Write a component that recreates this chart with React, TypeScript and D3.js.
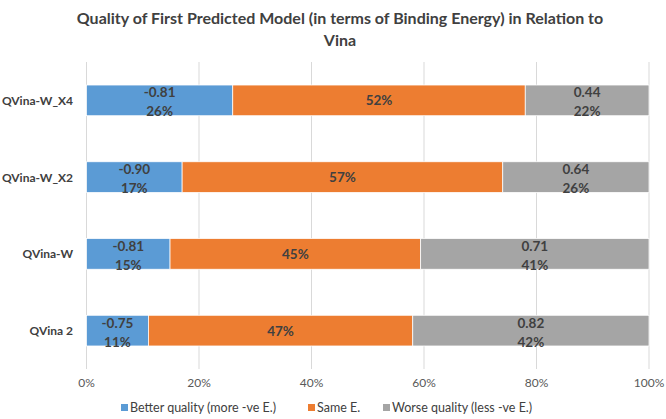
import * as d3 from "d3";

const categories = ["QVina-W_X4", "QVina-W_X2", "QVina-W", "QVina 2"];
const seriesNames = [
  "Better quality (more -ve E.)",
  "Same E.",
  "Worse quality (less -ve E.)",
];
const betterPct = [26, 17, 15, 11];
const samePct = [52, 57, 45, 47];
const worsePct = [22, 26, 41, 42];
const betterEnergy = ["-0.81", "-0.90", "-0.81", "-0.75"];
const worseEnergy = ["0.44", "0.64", "0.71", "0.82"];
const xTicks = [0, 0.2, 0.4, 0.6, 0.8, 1];

const colors = ["#5B9BD5", "#ED7D31", "#A5A5A5"];
const font = "Lato, 'Open Sans', sans-serif";

export default function App() {
  const width = 666;
  const height = 419;
  const margin = { top: 62, right: 17, bottom: 50, left: 86.5 };

  const rows = categories.map((c, i) => ({
    cat: c,
    better: betterPct[i],
    same: samePct[i],
    worse: worsePct[i],
  }));
  const keys = ["better", "same", "worse"];
  // expand offset normalises each row to 100% (QVina-W sums to 101)
  const stacked = d3
    .stack<(typeof rows)[0]>()
    .keys(keys)
    .offset(d3.stackOffsetExpand)(rows);

  const x = d3
    .scaleLinear()
    .domain([0, 1])
    .range([margin.left, width - margin.right]);
  const y = d3
    .scaleBand()
    .domain(categories)
    .range([margin.top, height - margin.bottom])
    .paddingInner(0.6)
    .paddingOuter(0.3);

  const legendItems = [
    { x: 121, label: seriesNames[0], color: colors[0] },
    { x: 308, label: seriesNames[1], color: colors[1] },
    { x: 383, label: seriesNames[2], color: colors[2] },
  ];

  return (
    <div style={{ position: "fixed", left: 0, top: 0 }}>
      <svg width={width} height={height} style={{ display: "block", background: "#fff" }}>
        <text
          x={340}
          y={24}
          textAnchor="middle"
          fontFamily={font}
          fontWeight="bold"
          fontSize={16}
          fill="#404040"
        >
          Quality of First Predicted Model (in terms of Binding Energy) in Relation to
        </text>
        <text
          x={340}
          y={46}
          textAnchor="middle"
          fontFamily={font}
          fontWeight="bold"
          fontSize={16}
          fill="#404040"
        >
          Vina
        </text>

        {/* grid */}
        {xTicks.map((t) => (
          <line
            key={t}
            x1={x(t)}
            x2={x(t)}
            y1={margin.top}
            y2={height - margin.bottom}
            stroke="#D9D9D9"
            strokeWidth={1}
          />
        ))}
        {xTicks.map((t) => (
          <text
            key={"t" + t}
            x={x(t)}
            y={387}
            textAnchor="middle"
            fontFamily={font}
            fontSize={12}
            fill="#595959"
          >
            {d3.format(".0%")(t)}
          </text>
        ))}

        {/* bars */}
        {stacked.map((s, si) =>
          s.map((d, i) => {
            const y0 = y(categories[i])!;
            const bw = y.bandwidth();
            const x0 = x(d[0]);
            const x1 = x(d[1]);
            const cx = (x0 + x1) / 2;
            const cy = y0 + bw / 2;
            return (
              <g key={si + "-" + i}>
                <rect
                  x={x0}
                  y={y0}
                  width={x1 - x0}
                  height={bw}
                  fill={colors[si]}
                  stroke="#fff"
                  strokeWidth={0.75}
                />
                {si === 1 ? (
                  <text
                    x={cx}
                    y={cy + 5}
                    textAnchor="middle"
                    fontFamily={font}
                    fontWeight="bold"
                    fontSize={13.5}
                    fill="#404040"
                  >
                    {samePct[i]}%
                  </text>
                ) : (
                  <g>
                    <text
                      x={cx}
                      y={cy - 3}
                      textAnchor="middle"
                      fontFamily={font}
                      fontWeight="bold"
                      fontSize={13.5}
                      fill="#404040"
                    >
                      {si === 0 ? betterEnergy[i] : worseEnergy[i]}
                    </text>
                    <text
                      x={cx}
                      y={cy + 16}
                      textAnchor="middle"
                      fontFamily={font}
                      fontWeight="bold"
                      fontSize={13.5}
                      fill="#404040"
                    >
                      {si === 0 ? betterPct[i] : worsePct[i]}%
                    </text>
                  </g>
                )}
              </g>
            );
          })
        )}

        {/* category labels */}
        {categories.map((c) => (
          <text
            key={c}
            x={73}
            y={y(c)! + y.bandwidth() / 2 + 4.5}
            textAnchor="end"
            fontFamily={font}
            fontWeight="bold"
            fontSize={12}
            fill="#404040"
          >
            {c}
          </text>
        ))}

        {/* legend */}
        {legendItems.map((l) => (
          <g key={l.label}>
            <rect x={l.x} y={404} width={7} height={7} fill={l.color} />
            <text
              x={l.x + 9}
              y={412}
              fontFamily={font}
              fontSize={12.5}
              fill="#404040"
            >
              {l.label}
            </text>
          </g>
        ))}
      </svg>
    </div>
  );
}
